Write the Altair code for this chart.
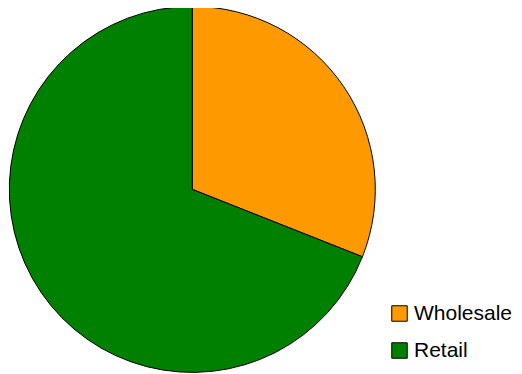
import altair as alt
import pandas as pd

categories = ["Wholesale", "Retail"]
values = [31, 69]
colors = ["#FF9900", "#008000"]
orders = [0, 1]

df = pd.DataFrame({"segment": categories, "value": values, "order": orders})

chart = (
    alt.Chart(df)
    .mark_arc(stroke="black", strokeWidth=1, outerRadius=183)
    .encode(
        theta=alt.Theta("value:Q", stack=True),
        color=alt.Color(
            "segment:N",
            scale=alt.Scale(domain=categories, range=colors),
            legend=alt.Legend(
                orient="none",
                legendX=377,
                legendY=291,
                padding=4,
                title=None,
                symbolType="square",
                symbolSize=240,
                symbolStrokeColor="black",
                symbolStrokeWidth=1,
                symbolOpacity=1,
                labelFont="Liberation Sans",
                labelFontSize=21,
                labelColor="black",
                rowPadding=15,
                symbolOffset=0,
                labelOffset=4,
                labelLimit=200,
            ),
        ),
        order=alt.Order("order:Q"),
        x=alt.value(184.3),
        y=alt.value(181.4),
    )
    .properties(
        width=506,
        height=366,
        autosize=alt.AutoSizeParams(type="none"),
        padding=0,
    )
    .configure_view(stroke=None)
)

chart.save("out.html", embed_options={"renderer": "svg", "actions": False})
